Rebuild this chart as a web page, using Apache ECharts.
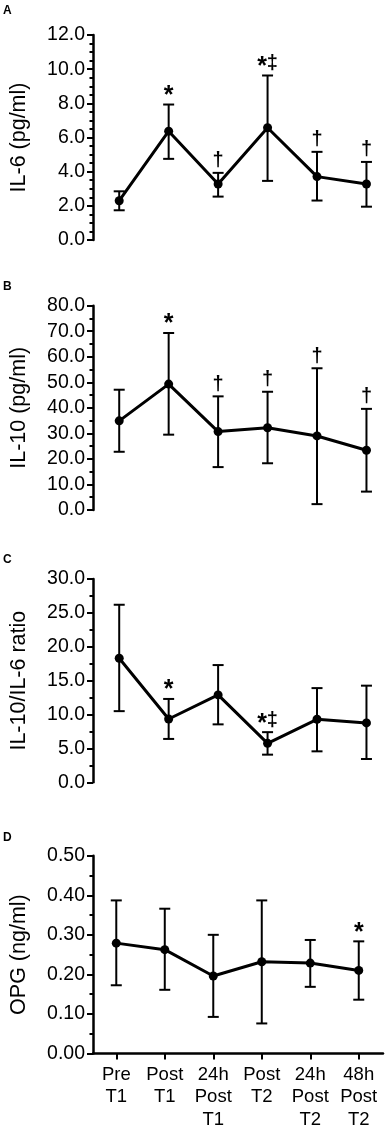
<!DOCTYPE html>
<html>
<head>
<meta charset="utf-8">
<script src="https://cdn.jsdelivr.net/npm/echarts@6/dist/echarts.min.js"></script>
<style>
html,body{margin:0;padding:0;background:#fff;}
#chart{width:385px;height:1131px;}
</style>
</head>
<body>
<div id="chart"></div>
<script>
// ---- data ----
const categories = ['Pre\nT1', 'Post\nT1', '24h\nPost\nT1', 'Post\nT2', '24h\nPost\nT2', '48h\nPost\nT2'];

const il6Mean  = [2.30, 6.37, 3.28, 6.57, 3.71, 3.28];
const il6Upper = [2.85, 7.93, 3.93, 9.63, 5.16, 4.57];
const il6Lower = [1.74, 4.75, 2.54, 3.46, 2.31, 1.95];
const il6Marks = ['', '*', '†', '*‡', '†', '†'];

const il10Mean  = [34.9, 49.3, 30.7, 32.2, 29.0, 23.4];
const il10Upper = [47.1, 69.3, 44.5, 46.3, 55.5, 39.6];
const il10Lower = [22.8, 29.5, 16.8, 18.3, 2.3, 7.2];
const il10Marks = ['', '*', '†', '†', '†', '†'];

const ratioMean  = [18.3, 9.34, 12.9, 5.75, 9.30, 8.76];
const ratioUpper = [26.2, 12.3, 17.3, 7.40, 13.9, 14.26];
const ratioLower = [10.5, 6.40, 8.55, 4.08, 4.57, 3.44];
const ratioMarks = ['', '*', '', '*‡', '', ''];

const opgMean  = [0.279, 0.2625, 0.196, 0.232, 0.2285, 0.210];
const opgUpper = [0.387, 0.366, 0.300, 0.387, 0.287, 0.2835];
const opgLower = [0.1725, 0.161, 0.0925, 0.076, 0.1685, 0.136];
const opgMarks = ['', '', '', '', '', '*'];

const panelLetters = ['A', 'B', 'C', 'D'];
const yNames = ['IL-6 (pg/ml)', 'IL-10 (pg/ml)', 'IL-10/IL-6 ratio', 'OPG (ng/ml)'];
const yMax = [12, 80, 30, 0.5];
const yInterval = [2, 10, 5, 0.1];
const yMinorSplit = [4, 2, 2, 2];
const yDecimals = [1, 1, 1, 2];

const panels = [
  {mean: il6Mean, upper: il6Upper, lower: il6Lower, marks: il6Marks},
  {mean: il10Mean, upper: il10Upper, lower: il10Lower, marks: il10Marks},
  {mean: ratioMean, upper: ratioUpper, lower: ratioLower, marks: ratioMarks},
  {mean: opgMean, upper: opgUpper, lower: opgLower, marks: opgMarks}
];

// ---- layout ----
const FONT = '"Liberation Sans", Arial, Helvetica, sans-serif';
const grids = [
  {left: 84, top: 35,    height: 205,   right: 3.7},
  {left: 84, top: 305.7, height: 204.3, right: 3.7},
  {left: 84, top: 579,   height: 203.3, right: 3.7},
  {left: 84, top: 855.7, height: 200,   right: 2}
];
const xRanges = [[-0.53, 5.3], [-0.53, 5.3], [-0.53, 5.3], [-0.48, 5.5]];
const letterY = [11, 287, 560, 838];

const idx = categories.map((c, i) => i);

const xAxes = grids.map((g, k) => {
  const isLast = k === 3;
  return {
    type: 'value', gridIndex: k, min: xRanges[k][0], max: xRanges[k][1],
    splitLine: {show: false},
    axisLine: {show: isLast, onZero: false, lineStyle: {color: '#000', width: 2.5}},
    axisTick: {show: isLast, customValues: idx, length: 6, lineStyle: {color: '#000', width: 2}},
    axisLabel: {
      show: isLast, customValues: idx, margin: 10,
      formatter: v => categories[Math.round(v)] || '',
      color: '#000', fontFamily: FONT, fontSize: 18.5, lineHeight: 22.5, align: 'center'
    }
  };
});

const yAxes = grids.map((g, k) => ({
  type: 'value', gridIndex: k, min: 0, max: yMax[k], interval: yInterval[k],
  name: yNames[k], nameLocation: 'middle', nameGap: 63, nameRotate: 90,
  nameTextStyle: {color: '#000', fontFamily: FONT, fontSize: 21.5},
  splitLine: {show: false},
  axisLine: {show: true, onZero: false, lineStyle: {color: '#000', width: 2.5}},
  axisTick: {show: true, length: 6, lineStyle: {color: '#000', width: 2}},
  minorTick: {show: true, splitNumber: yMinorSplit[k], length: 3.5, lineStyle: {color: '#000', width: 2}},
  axisLabel: {
    margin: 8, color: '#000', fontFamily: FONT, fontSize: 19.5,
    formatter: v => Number(v).toFixed(yDecimals[k])
  }
}));

function markRich(str) {
  return str.split('').map(ch => ch === '*' ? '{s|*}' : '{d|' + ch + '}').join('');
}

const series = [];
panels.forEach((p, k) => {
  // error bars
  series.push({
    type: 'custom', xAxisIndex: k, yAxisIndex: k, z: 2,
    data: idx.map(i => [i, p.lower[i], p.upper[i]]),
    renderItem: (params, api) => {
      const x = api.value(0);
      const lo = api.coord([x, api.value(1)]);
      const hi = api.coord([x, api.value(2)]);
      const hw = 5.5;
      const st = {stroke: '#000', lineWidth: 2};
      return {
        type: 'group',
        children: [
          {type: 'line', shape: {x1: lo[0], y1: lo[1], x2: hi[0], y2: hi[1]}, style: st},
          {type: 'line', shape: {x1: hi[0] - hw, y1: hi[1], x2: hi[0] + hw, y2: hi[1]}, style: st},
          {type: 'line', shape: {x1: lo[0] - hw, y1: lo[1], x2: lo[0] + hw, y2: lo[1]}, style: st}
        ]
      };
    },
    silent: true
  });
  // mean line
  series.push({
    type: 'line', xAxisIndex: k, yAxisIndex: k, z: 3,
    data: idx.map(i => [i, p.mean[i]]),
    symbol: 'circle', symbolSize: 9,
    itemStyle: {color: '#000'},
    lineStyle: {color: '#000', width: 3},
    silent: true
  });
  // significance marks
  series.push({
    type: 'custom', xAxisIndex: k, yAxisIndex: k, z: 4,
    data: idx.map(i => [i, p.upper[i]]),
    renderItem: (params, api) => {
      const i = params.dataIndex;
      if (!p.marks[i]) return null;
      const pt = api.coord([api.value(0), api.value(1)]);
      return {
        type: 'text', x: pt[0], y: pt[1] - 1,
        style: {
          text: markRich(p.marks[i]), fill: '#000', textAlign: 'center', textVerticalAlign: 'bottom',
          rich: {
            s: {fontFamily: FONT, fontSize: 25, fontWeight: 'bold', lineHeight: 22, verticalAlign: 'top', padding: [2, 0, 0, 0]},
            d: {fontFamily: FONT, fontSize: 20, fontWeight: 'bold', lineHeight: 22}
          }
        }
      };
    },
    silent: true
  });
});

const option = {
  backgroundColor: '#fff',
  animation: false,
  grid: grids,
  xAxis: xAxes,
  yAxis: yAxes,
  series: series,
  graphic: panelLetters.map((L, k) => ({
    type: 'text', left: 3, top: letterY[k] - 6,
    style: {text: L, fill: '#000', font: 'bold 12px ' + FONT}
  }))
};

const chart = echarts.init(document.getElementById('chart'), null, {renderer: 'canvas'});
chart.setOption(option);
</script>
</body>
</html>
